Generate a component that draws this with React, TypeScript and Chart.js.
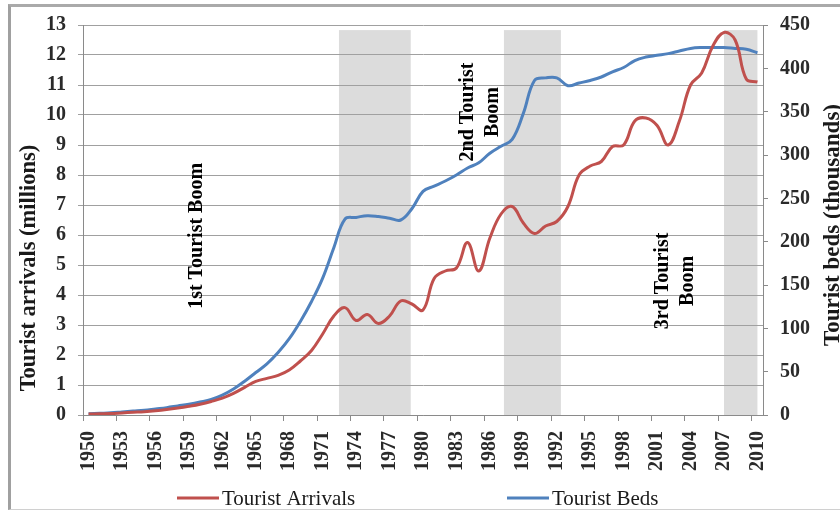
import React, { useEffect, useRef } from 'react';
import { Chart, registerables } from 'chart.js';

Chart.register(...registerables);

// ---- Data ----
const years = [
  '1950','1951','1952','1953','1954','1955','1956','1957','1958','1959',
  '1960','1961','1962','1963','1964','1965','1966','1967','1968','1969',
  '1970','1971','1972','1973','1974','1975','1976','1977','1978','1979',
  '1980','1981','1982','1983','1984','1985','1986','1987','1988','1989',
  '1990','1991','1992','1993','1994','1995','1996','1997','1998','1999',
  '2000','2001','2002','2003','2004','2005','2006','2007','2008','2009',
  '2010',
];

// Tourist arrivals (millions)
const arrivals = [
  0.03, 0.04, 0.05, 0.07, 0.09, 0.11, 0.14, 0.18, 0.23, 0.29,
  0.36, 0.45, 0.56, 0.72, 0.92, 1.12, 1.22, 1.32, 1.5, 1.8,
  2.15, 2.7, 3.3, 3.58, 3.15, 3.35, 3.05, 3.3, 3.8, 3.7,
  3.5, 4.55, 4.8, 4.9, 5.75, 4.8, 5.9, 6.7, 6.95, 6.4,
  6.05, 6.3, 6.45, 6.95, 8.0, 8.3, 8.45, 8.95, 9.0, 9.8,
  9.9, 9.65, 9.0, 9.8, 11.0, 11.4, 12.3, 12.75, 12.5, 11.2,
  11.1,
];

// Tourist beds (thousands)
const beds = [
  1.5, 2, 2.5, 3.5, 4.5, 5.5, 7, 8.5, 10.5, 12.5,
  15, 18, 23, 30, 39, 49, 59, 72, 88, 108,
  131, 158, 193, 226, 228, 230, 229, 227, 225, 238,
  258, 264, 270, 277, 285, 291, 302, 310, 318, 348,
  386, 389, 389, 380, 383, 386, 390, 396, 401, 409,
  413, 415, 417, 420, 423, 424, 424, 424, 423, 422,
  418,
];

const seriesNames = ['Tourist Arrivals', 'Tourist Beds'];
const leftAxisTitle = 'Tourist arrivals (millions)';
const rightAxisTitle = 'Tourist beds (thousands)';
const leftMin = 0;
const leftMax = 13;
const leftStep = 1;
const rightMin = 0;
const rightMax = 450;
const rightStep = 50;
const labelEvery = 3;

// Tourist boom periods (shaded), in years
const boomStart = [1972.46, 1987.26, 2007.0];
const boomEnd = [1978.9, 1992.37, 2010.0];
const boomLabels = [['1st Tourist Boom'], ['2nd Tourist', 'Boom'], ['3rd Tourist', 'Boom']];
const boomLabelYear = [1959.7, 1985.1, 2002.6];
const boomLabelValue = [5.97, 10.1, 4.47];

const RED = '#C0504D';
const BLUE = '#4F81BD';
const SERIF = "'Liberation Serif', 'Times New Roman', serif";

export default function App() {
  const ref = useRef<HTMLCanvasElement>(null);

  useEffect(() => {
    const canvas = ref.current;
    if (!canvas) return;
    const firstYear = Number(years[0]);

    const decor = {
      id: 'decor',
      beforeDraw(chart: any) {
        const { ctx, chartArea, scales } = chart;
        const xs = scales.x;
        const ys = scales.y;
        ctx.save();
        ctx.fillStyle = '#dcdcdc';
        const top = ys.getPixelForValue(12.83);
        for (let i = 0; i < boomStart.length; i++) {
          const x0 = xs.getPixelForValue(boomStart[i] - firstYear);
          const x1 = xs.getPixelForValue(boomEnd[i] - firstYear);
          ctx.fillRect(x0, top, x1 - x0, chartArea.bottom - top);
        }
        ctx.restore();
      },
      afterDraw(chart: any) {
        const { ctx, chartArea, scales } = chart;
        const xs = scales.x;
        const ys = scales.y;
        ctx.save();
        // annotations
        ctx.fillStyle = '#000';
        ctx.font = `bold 20px ${SERIF}`;
        ctx.textAlign = 'center';
        ctx.textBaseline = 'middle';
        const lh = 25;
        for (let i = 0; i < boomLabels.length; i++) {
          const cx = xs.getPixelForValue(boomLabelYear[i] - firstYear);
          const cy = ys.getPixelForValue(boomLabelValue[i]);
          const lines = boomLabels[i];
          ctx.save();
          ctx.translate(cx, cy);
          ctx.rotate(-Math.PI / 2);
          lines.forEach((t, k) => {
            ctx.fillText(t, 0, (k - (lines.length - 1) / 2) * lh);
          });
          ctx.restore();
        }
        // axis titles
        ctx.fillStyle = '#1a1a1a';
        ctx.font = `bold 22.5px ${SERIF}`;
        ctx.save();
        ctx.translate(29, chartArea.top + (chartArea.bottom - chartArea.top) / 2 + 48);
        ctx.rotate(-Math.PI / 2);
        ctx.fillText(leftAxisTitle, 0, 0);
        ctx.restore();
        ctx.font = `bold 23px ${SERIF}`;
        ctx.save();
        ctx.translate(chartArea.right + 70, chartArea.top + (chartArea.bottom - chartArea.top) / 2 + 5);
        ctx.rotate(-Math.PI / 2);
        ctx.fillText(rightAxisTitle, 0, 0);
        ctx.restore();
        // legend
        const legendY = 498;
        const items = [
          { x: 177, color: RED },
          { x: 507, color: BLUE },
        ];
        ctx.font = `21px ${SERIF}`;
        ctx.textAlign = 'left';
        ctx.textBaseline = 'middle';
        items.forEach((it, k) => {
          ctx.strokeStyle = it.color;
          ctx.lineWidth = 3;
          ctx.beginPath();
          ctx.moveTo(it.x, legendY);
          ctx.lineTo(it.x + 42, legendY);
          ctx.stroke();
          ctx.fillStyle = '#1a1a1a';
          ctx.fillText(chart.data.datasets[k].label, it.x + 45, legendY + 1);
        });
        ctx.restore();
      },
    };

    const tickFont = { family: SERIF, size: 20, weight: 'bold' as const };

    const chart = new Chart(canvas, {
      type: 'line',
      data: {
        labels: years,
        datasets: [
          {
            label: seriesNames[0],
            data: arrivals,
            borderColor: RED,
            backgroundColor: RED,
            borderWidth: 3,
            pointRadius: 0,
            tension: 0.4,
            yAxisID: 'y',
          },
          {
            label: seriesNames[1],
            data: beds,
            borderColor: BLUE,
            backgroundColor: BLUE,
            borderWidth: 3,
            pointRadius: 0,
            tension: 0.4,
            yAxisID: 'y1',
          },
        ],
      },
      options: {
        responsive: false,
        animation: false,
        layout: { padding: { top: 25, left: 0, right: 0, bottom: 40 } },
        plugins: {
          legend: { display: false },
          tooltip: { enabled: false },
          title: { display: false },
        },
        scales: {
          x: {
            type: 'category',
            offset: true,
            grid: {
              offset: true,
              drawOnChartArea: false,
              drawTicks: true,
              tickLength: 6,
              color: (c: any) => (c.index % labelEvery === 0 ? '#8a8a8a' : 'rgba(0,0,0,0)'),
            },
            border: { color: '#8a8a8a' },
            ticks: {
              autoSkip: false,
              maxRotation: 90,
              minRotation: 90,
              padding: 10,
              color: '#2a2a2a',
              font: tickFont,
              callback: (_v: any, i: number) => (i % labelEvery === 0 ? years[i] : ''),
            },
            afterFit: (s: any) => {
              s.height = 60;
            },
          },
          y: {
            position: 'left',
            min: leftMin,
            max: leftMax,
            ticks: { stepSize: leftStep, padding: 12, color: '#2a2a2a', font: tickFont },
            grid: { color: '#a0a0a0', tickLength: 5 },
            border: { color: '#8a8a8a' },
            afterFit: (s: any) => {
              s.width = 83;
            },
          },
          y1: {
            position: 'right',
            min: rightMin,
            max: rightMax,
            ticks: { stepSize: rightStep, padding: 12, color: '#2a2a2a', font: tickFont },
            grid: { drawOnChartArea: false, tickLength: 5, color: '#8a8a8a' },
            border: { color: '#8a8a8a' },
            afterFit: (s: any) => {
              s.width = 77;
            },
          },
        },
      },
      plugins: [decor],
    });

    return () => chart.destroy();
  }, []);

  return (
    <div
      style={{
        position: 'fixed',
        left: 0,
        top: 0,
        width: 840,
        height: 515,
        overflow: 'hidden',
        background: '#fff',
      }}
    >
      <div
        style={{
          position: 'absolute',
          left: 8,
          top: 4,
          width: 900,
          height: 506,
          borderTop: '3px solid #aaaaaa',
          borderLeft: '3px solid #a0a0a0',
          borderBottom: '1px solid #d0d0d0',
          boxSizing: 'border-box',
        }}
      />
      <canvas
        ref={ref}
        width={840}
        height={515}
        style={{ position: 'absolute', left: 0, top: 0, width: 840, height: 515 }}
      />
    </div>
  );
}
